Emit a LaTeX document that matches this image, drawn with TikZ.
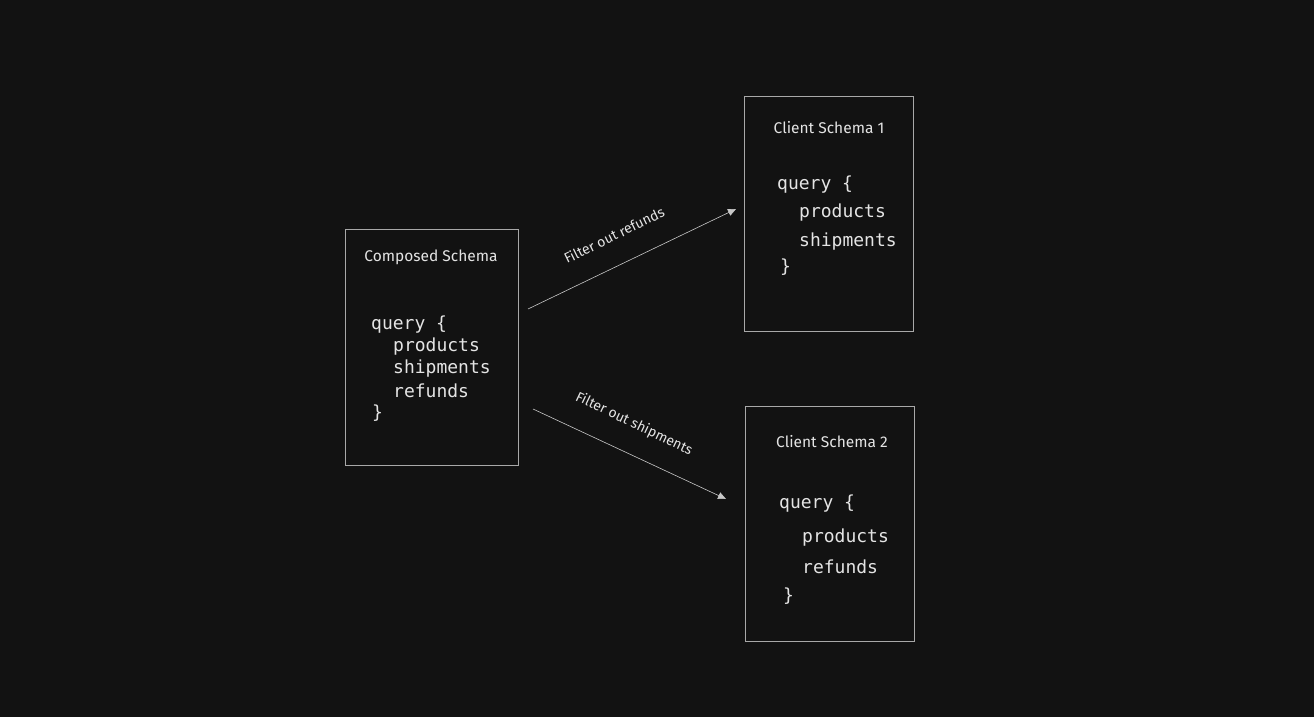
\documentclass[tikz,border=0pt]{standalone}
\usepackage{fontspec}
\setmainfont{Fira Sans}
\newfontfamily\codefont{DejaVu Sans Mono}
\newfontfamily\handfont{Fira Sans}
\usetikzlibrary{arrows.meta}
\definecolor{bgc}{HTML}{121212}
\definecolor{boxc}{HTML}{A8A8A8}
\definecolor{txtc}{HTML}{E4E4E4}
\definecolor{arrc}{HTML}{C8C8C8}
\begin{document}
\begin{tikzpicture}[x=1pt,y=-1pt,
  schemabox/.style={draw=boxc, line width=0.8pt},
  titletext/.style={text=txtc, font=\handfont\fontsize{15.5}{18}\selectfont, inner sep=0pt},
  codetext/.style={text=txtc, font=\codefont\fontsize{18}{21}\selectfont, inner sep=0pt, anchor=west},
  labeltext/.style={text=txtc, font=\handfont\fontsize{14}{16}\selectfont, inner sep=0pt},
  flow/.style={draw=arrc, line width=0.6pt, -{Triangle[length=8pt,width=7pt]}}]
\fill[bgc] (0,0) rectangle (1314,717);
\useasboundingbox (0,0) rectangle (1314,717);
% boxes
\draw[schemabox] (345,229) rectangle (518,465);
\draw[schemabox] (744,96) rectangle (913,331);
\draw[schemabox] (745,406) rectangle (914,641);
% composed
\node[titletext] (ct) at (431,257) {Composed Schema};
\node[codetext] (c1) at (371,325) {query \{};
\node[codetext] (c2) at (393,347) {products};
\node[codetext] (c3) at (393,369) {shipments};
\node[codetext] (c4) at (393,391) {refunds};
\node[codetext] (c5) at (372,413) {\}};
% client 1
\node[titletext] (at) at (829,128) {Client Schema 1};
\node[codetext] (a1) at (777,185) {query \{};
\node[codetext] (a2) at (799,213) {products};
\node[codetext] (a3) at (799,242) {shipments};
\node[codetext] (a4) at (780,267) {\}};
% client 2
\node[titletext] (bt) at (832,442) {Client Schema 2};
\node[codetext] (b1) at (779,504) {query \{};
\node[codetext] (b2) at (802,538) {products};
\node[codetext] (b3) at (802,567) {refunds};
\node[codetext] (b4) at (783,596) {\}};
% arrows
\coordinate (s1) at (528,309);
\coordinate (e1) at (736,209);
\coordinate (s2) at (533,409);
\coordinate (e2) at (726,499);
\draw[flow] (s1) -- (e1);
\draw[flow] (s2) -- (e2);
\node[labeltext, rotate=26] (l1) at (614,235) {Filter out refunds};
\node[labeltext, rotate=-25.5] (l2) at (634,424) {Filter out shipments};
\end{tikzpicture}
\end{document}
